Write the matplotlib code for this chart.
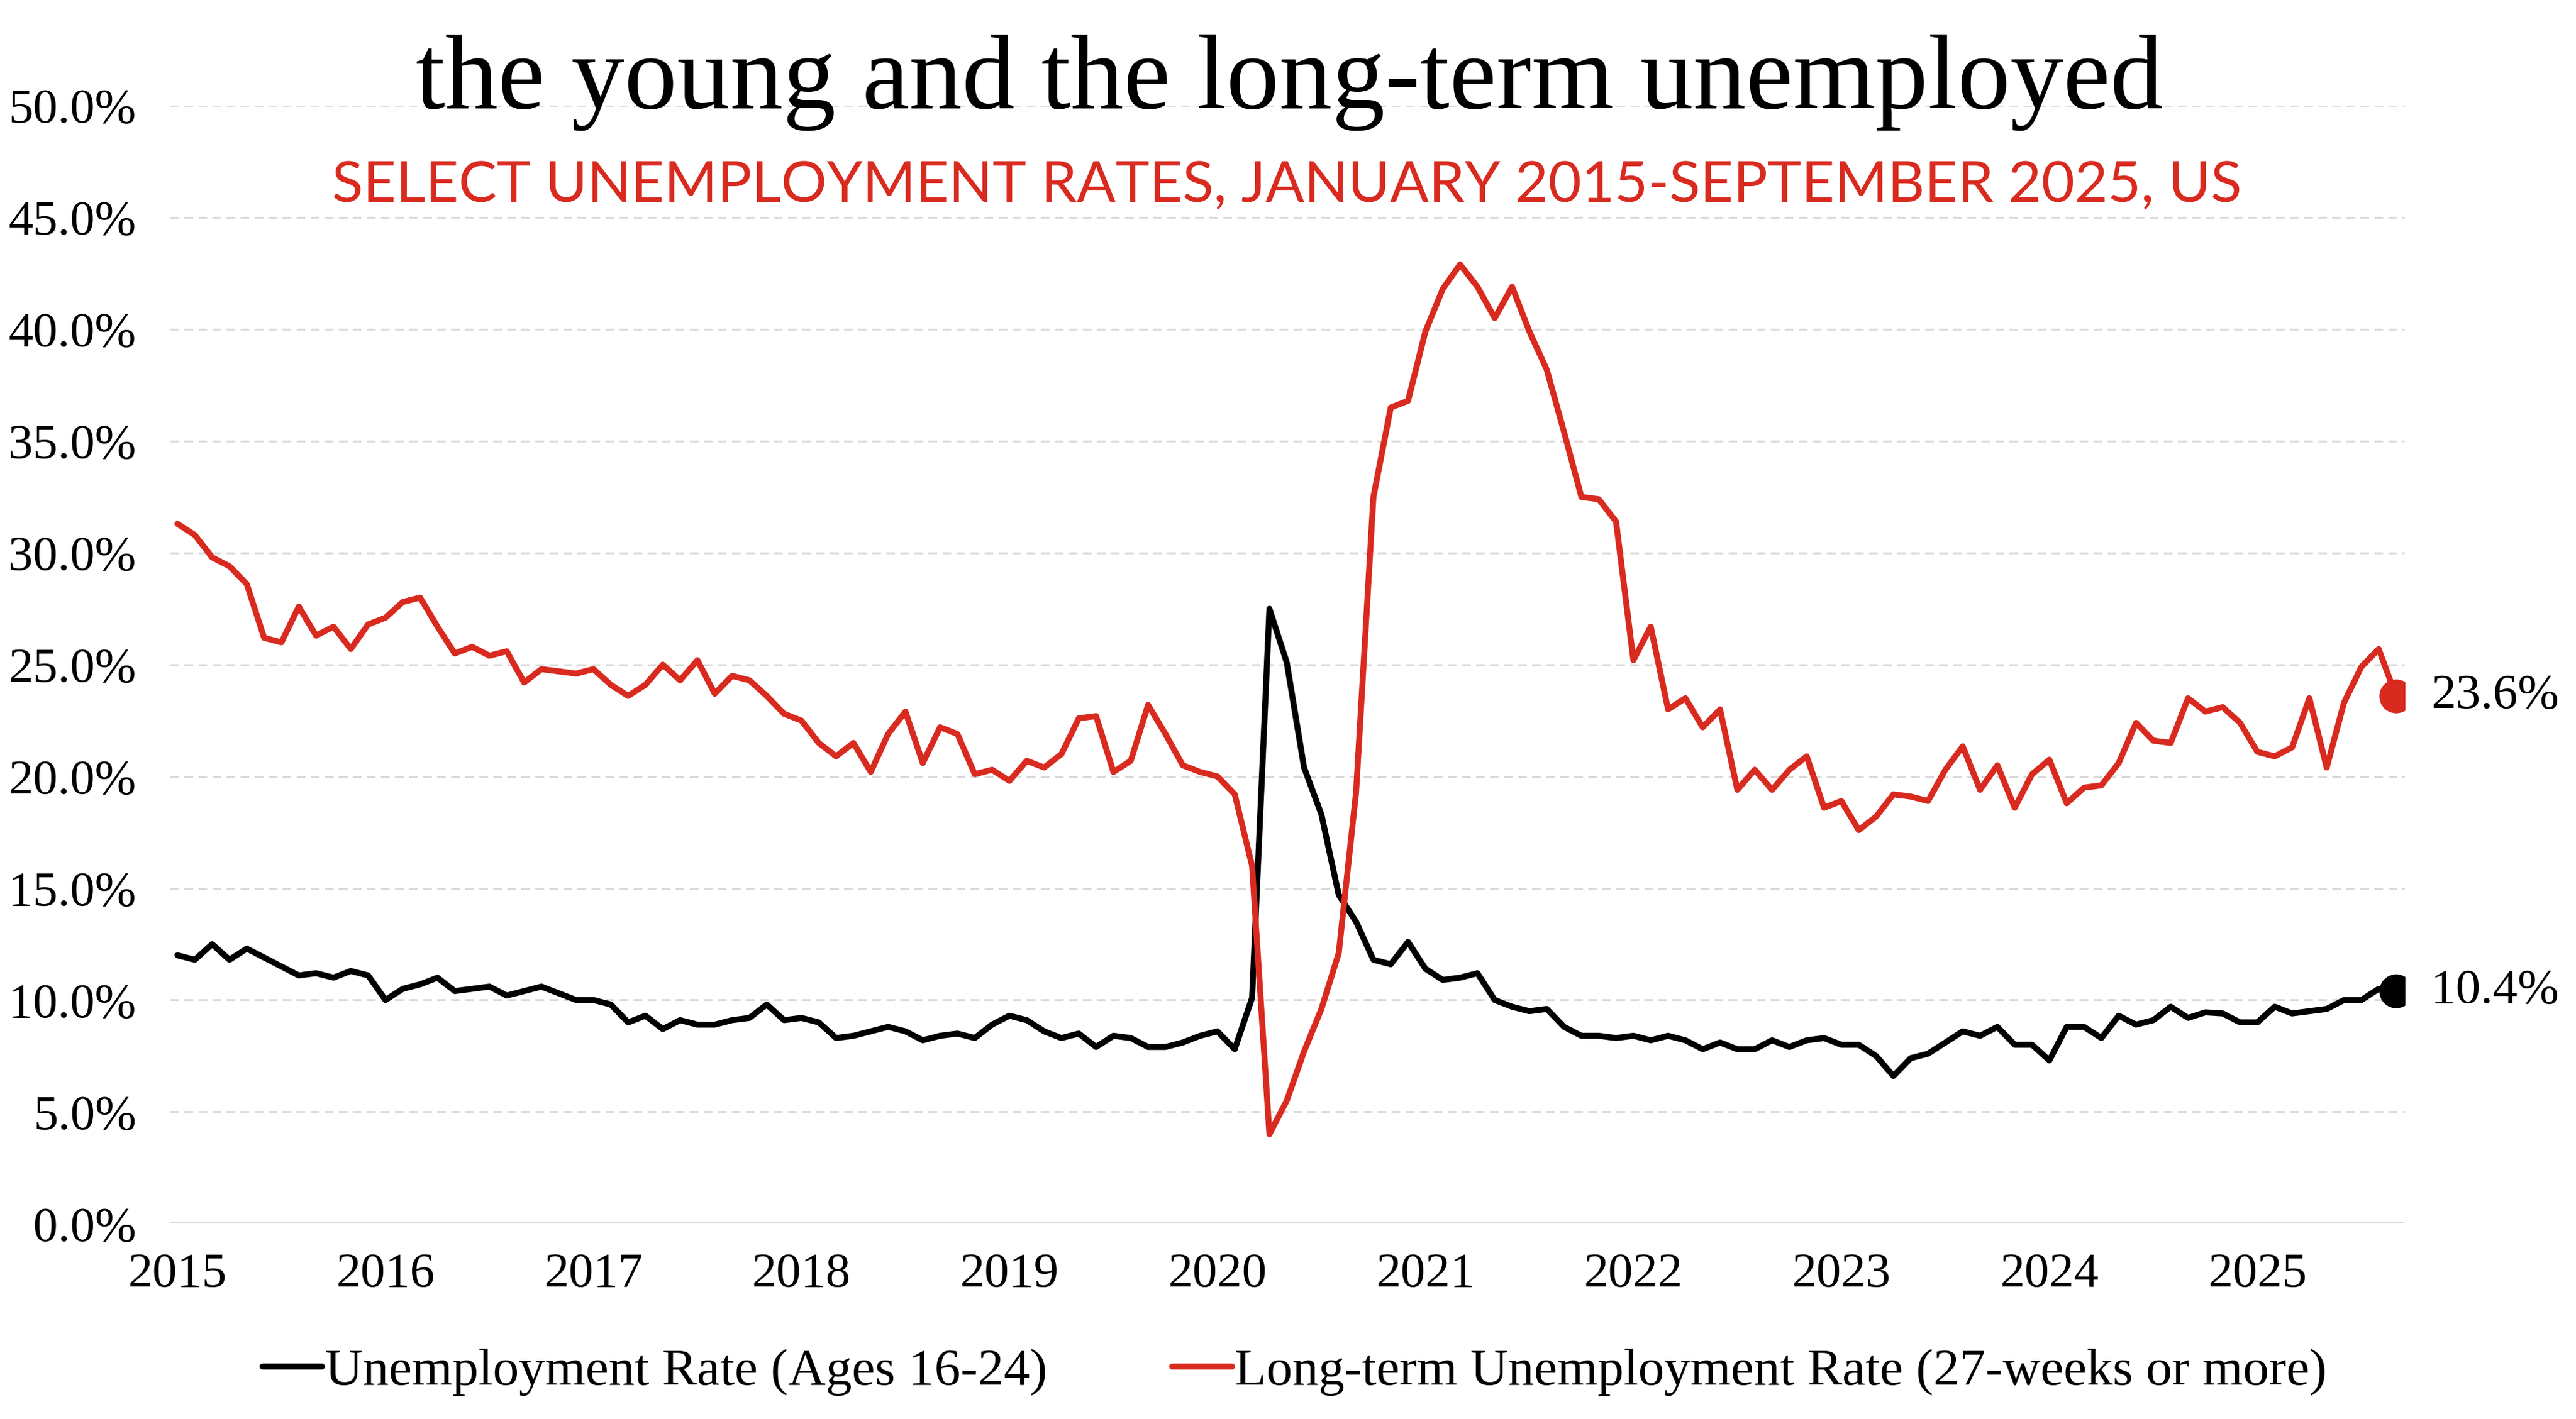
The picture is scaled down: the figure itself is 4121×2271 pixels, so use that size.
import numpy as np
import matplotlib.pyplot as plt

# ---- data: monthly rates, Jan 2015 - Sep 2025 (%) ----
youth_rate = [
    12.0, 11.8, 12.5, 11.8, 12.3, 11.9, 11.5, 11.1, 11.2, 11.0, 11.3, 11.1,
    10.0, 10.5, 10.7, 11.0, 10.4, 10.5, 10.6, 10.2, 10.4, 10.6, 10.3, 10.0,
    10.0, 9.8, 9.0, 9.3, 8.7, 9.1, 8.9, 8.9, 9.1, 9.2, 9.8, 9.1,
    9.2, 9.0, 8.3, 8.4, 8.6, 8.8, 8.6, 8.2, 8.4, 8.5, 8.3, 8.9,
    9.3, 9.1, 8.6, 8.3, 8.5, 7.9, 8.4, 8.3, 7.9, 7.9, 8.1, 8.4,
    8.6, 7.8, 10.1, 27.5, 25.1, 20.4, 18.3, 14.7, 13.5, 11.8, 11.6, 12.6,
    11.4, 10.9, 11.0, 11.2, 10.0, 9.7, 9.5, 9.6, 8.8, 8.4, 8.4, 8.3,
    8.4, 8.2, 8.4, 8.2, 7.8, 8.1, 7.8, 7.8, 8.2, 7.9, 8.2, 8.3,
    8.0, 8.0, 7.5, 6.6, 7.4, 7.6, 8.1, 8.6, 8.4, 8.8, 8.0, 8.0,
    7.3, 8.8, 8.8, 8.3, 9.3, 8.9, 9.1, 9.7, 9.2, 9.45, 9.4, 9.0,
    9.0, 9.7, 9.4, 9.5, 9.6, 10.0, 10.0, 10.5, 10.4,
]
longterm_rate = [
    31.3, 30.8, 29.8, 29.4, 28.6, 26.2, 26.0, 27.6, 26.3, 26.7, 25.7, 26.8,
    27.1, 27.8, 28.0, 26.7, 25.5, 25.8, 25.4, 25.6, 24.2, 24.8, 24.7, 24.6,
    24.8, 24.1, 23.6, 24.1, 25.0, 24.3, 25.2, 23.7, 24.5, 24.3, 23.6, 22.8,
    22.5, 21.5, 20.9, 21.5, 20.2, 21.9, 22.9, 20.6, 22.2, 21.9, 20.1, 20.3,
    19.8, 20.7, 20.4, 21.0, 22.6, 22.7, 20.2, 20.7, 23.2, 21.9, 20.5, 20.2,
    20.0, 19.2, 16.0, 4.0, 5.5, 7.7, 9.6, 12.1, 19.3, 32.5, 36.5, 36.8,
    39.9, 41.8, 42.9, 41.9, 40.5, 41.9, 39.9, 38.2, 35.4, 32.5, 32.4, 31.4,
    25.2, 26.7, 23.0, 23.5, 22.2, 23.0, 19.4, 20.3, 19.4, 20.3, 20.9, 18.6,
    18.9, 17.6, 18.2, 19.2, 19.1, 18.9, 20.3, 21.35, 19.4, 20.5, 18.6, 20.1,
    20.75, 18.8, 19.5, 19.6, 20.6, 22.4, 21.6, 21.5, 23.5, 22.9, 23.1, 22.4,
    21.1, 20.9, 21.3, 23.5, 20.4, 23.3, 24.9, 25.7, 23.6,
]
years = [str(y) for y in range(2015, 2026)]
y_ticks = [0, 5, 10, 15, 20, 25, 30, 35, 40, 45, 50]

RED = "#D92A1F"
BLACK = "#000000"
GRID = "#dadada"
SERIF = ["Liberation Serif", "DejaVu Serif"]

months = np.arange(len(youth_rate))

fig = plt.figure(figsize=(4121 / 300, 2271 / 300), dpi=300)
ax = fig.add_axes([0.066, 0.1377, 0.8675, 0.7878])

ax.plot(months, youth_rate, color=BLACK, lw=2.3, solid_joinstyle="round",
        solid_capstyle="round", label="Unemployment Rate (Ages 16-24)", zorder=3)
ax.plot(months, longterm_rate, color=RED, lw=2.3, solid_joinstyle="round",
        solid_capstyle="round",
        label="Long-term Unemployment Rate (27-weeks or more)", zorder=3)

# end markers + labels
for series, col in [(youth_rate, BLACK), (longterm_rate, RED)]:
    ax.plot(months[-1], series[-1], "o", color=col, ms=12, zorder=4)
    ax.annotate(f"{series[-1]:.1f}%", (months[-1], series[-1]),
                xytext=(13.5, 0), textcoords="offset points",
                va="center", ha="left", fontsize=19, family=SERIF,
                color=BLACK, annotation_clip=False)

ax.set_xlim(-0.43, len(months) - 0.5)
ax.set_ylim(0, 50)
ax.set_yticks(y_ticks)
ax.set_yticklabels([f"{v:.1f}%" for v in y_ticks], family=SERIF, fontsize=19)
ax.set_xticks(months[::12])
ax.set_xticklabels(years, family=SERIF, fontsize=19)
ax.tick_params(axis="both", length=0, colors=BLACK)
ax.tick_params(axis="y", pad=13)
ax.tick_params(axis="x", pad=11)

ax.yaxis.grid(True, color=GRID, lw=0.7, dashes=(4.8, 2.9))
ax.axhline(0, color=GRID, lw=1.4, zorder=1)
ax.set_axisbelow(True)
for s in ax.spines.values():
    s.set_visible(False)

fig.text(0.5005, 0.924, "the young and the long-term unemployed",
         ha="center", va="baseline", fontsize=40.6, family=SERIF, color=BLACK)
fig.text(0.4995, 0.858, "SELECT UNEMPLOYMENT RATES, JANUARY 2015-SEPTEMBER 2025, US",
         ha="center", va="baseline", fontsize=22, family="Lato", color=RED)

fig.legend(loc="center", bbox_to_anchor=(0.5025, 0.033), ncol=2,
           frameon=False, handlelength=1.15, handletextpad=0.05,
           columnspacing=2.4, prop={"family": SERIF, "size": 20})

fig.savefig("out.png", dpi=300)
